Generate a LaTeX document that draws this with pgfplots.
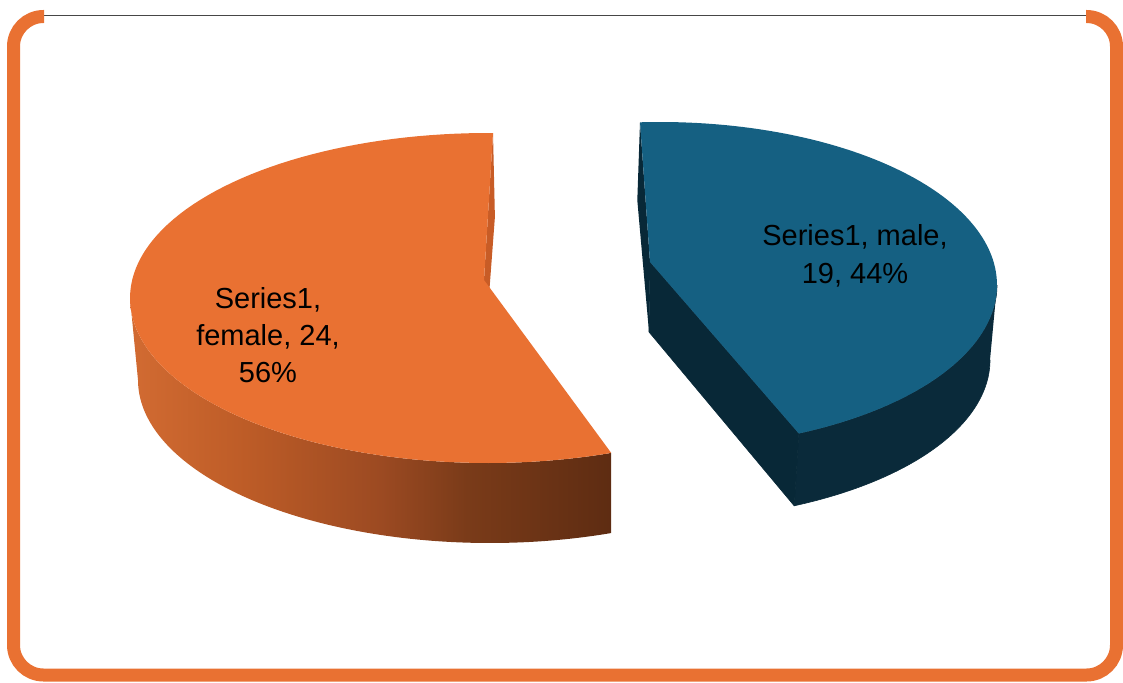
\documentclass[border=0pt]{standalone}
\usepackage{pgfplots}
\pgfplotsset{compat=1.18}
\usepackage{pgfplotstable}
\usepackage{fontspec}
\setmainfont{Liberation Sans}

\definecolor{ftop}{RGB}{233,113,50}
\definecolor{fcut}{RGB}{200,92,38}
\definecolor{fs1}{RGB}{210,107,50}
\definecolor{fs2}{RGB}{189,92,39}
\definecolor{fs3}{RGB}{156,74,34}
\definecolor{fs4}{RGB}{122,59,25}
\definecolor{fs5}{RGB}{94,44,18}
\definecolor{mtop}{RGB}{21,96,130}
\definecolor{mside}{RGB}{10,42,58}
\definecolor{mcut}{RGB}{8,40,55}
\definecolor{frame}{RGB}{233,113,50}
\definecolor{topline}{RGB}{70,70,70}

\pgfdeclarehorizontalshading{femside}{100bp}{color(0bp)=(fs1); color(25bp)=(fs1); color(37bp)=(fs2); color(51bp)=(fs3); color(60bp)=(fs4); color(75bp)=(fs5); color(100bp)=(fs5)}

\pgfplotstableread{
name value
female 24
male 19
}\piedata

\begin{document}%
\begin{tikzpicture}
\pgfplotstablegetelem{0}{value}\of\piedata \let\vf\pgfplotsretval
\pgfplotstablegetelem{1}{value}\of\piedata \let\vm\pgfplotsretval
\pgfmathsetmacro\fsweep{360*\vf/(\vf+\vm)}
\pgfmathsetmacro\msweep{360*\vm/(\vf+\vm)}
\def\fa{89.2}
\pgfmathsetmacro\fb{\fa+\fsweep}
\def\ma{93.4}
\pgfmathsetmacro\mb{\ma-\msweep}
\begin{axis}[at={(0,0)}, anchor=south west, scale only axis,
  width=1123pt, height=682pt, xmin=0, xmax=1123, ymin=0, ymax=682,
  y dir=reverse, hide axis, clip=false]

% frame
\draw[line width=1.3pt, color=topline] (axis cs:44,15.5) -- (axis cs:1086,15.5);
\draw[line width=13pt, color=frame, rounded corners=30pt]
  (axis cs:44,16.5) -- (axis cs:13.5,16.5) -- (axis cs:13.5,675) -- (axis cs:1116.5,675)
  -- (axis cs:1116.5,16.5) -- (axis cs:1086,16.5);

% ---------- female slice ----------
% cut face at start
\addplot[fill=fcut, draw=none] coordinates {(493,133) (484,280) (484,362) (494.9,217)};
% outer side
\addplot[draw=none, shade, shading=femside, variable=\t, samples at={0,1,...,201}]
  ({ifthenelse(\t<100.5, 488+358*cos(180+(\fb-180)*\t/100), 490+352*cos(\fb-(\fb-180)*(\t-101)/100))},
   {ifthenelse(\t<100.5, 298-165*sin(180+(\fb-180)*\t/100), 380-163*sin(\fb-(\fb-180)*(\t-101)/100))});
% top face
\addplot[fill=ftop, draw=none, variable=\t, samples at={0,1,...,101}]
  ({ifthenelse(\t<100.5, 488+358*cos(\fa+(\fb-\fa)*\t/100), 484)},
   {ifthenelse(\t<100.5, 298-165*sin(\fa+(\fb-\fa)*\t/100), 280)});

% ---------- male slice ----------
% outer side
\addplot[fill=mside, draw=mside, line width=0.6pt, line join=round, variable=\t, samples at={0,1,...,201}]
  ({ifthenelse(\t<100.5, 660+337*cos(0+(\mb)*\t/100), 657+333*cos(\mb-(\mb)*(\t-101)/100))},
   {ifthenelse(\t<100.5, 285-163*sin(0+(\mb)*\t/100), 360-160*sin(\mb-(\mb)*(\t-101)/100))});
% cut face at end
\addplot[fill=mcut, draw=mcut, line width=0.6pt, line join=round] coordinates {(650,262) (798.8,433.5) (794.2,505.8) (649,332) (650,262)};
% cut face at start
\addplot[fill=mcut, draw=none] coordinates {(640,122.3) (650,262) (649,332) (637.3,200.3)};
% top face
\addplot[fill=mtop, draw=none, variable=\t, samples at={0,1,...,101}]
  ({ifthenelse(\t<100.5, 660+337*cos(\ma+(\mb-\ma)*\t/100), 650)},
   {ifthenelse(\t<100.5, 285-163*sin(\ma+(\mb-\ma)*\t/100), 262)});

% labels
\node[anchor=base, inner sep=0pt, font=\fontsize{29}{37}\selectfont] at (axis cs:855,245) {Series1, male,};
\node[anchor=base, inner sep=0pt, font=\fontsize{29}{37}\selectfont] at (axis cs:855,283) {19, 44\%};
\node[anchor=base, inner sep=0pt, font=\fontsize{29}{37}\selectfont] at (axis cs:268,308) {Series1,};
\node[anchor=base, inner sep=0pt, font=\fontsize{29}{37}\selectfont] at (axis cs:268,345) {female, 24,};
\node[anchor=base, inner sep=0pt, font=\fontsize{29}{37}\selectfont] at (axis cs:268,382) {56\%};
\end{axis}
\pgfresetboundingbox
\useasboundingbox (current axis.south west) rectangle (current axis.north east);
\end{tikzpicture}%
\end{document}
